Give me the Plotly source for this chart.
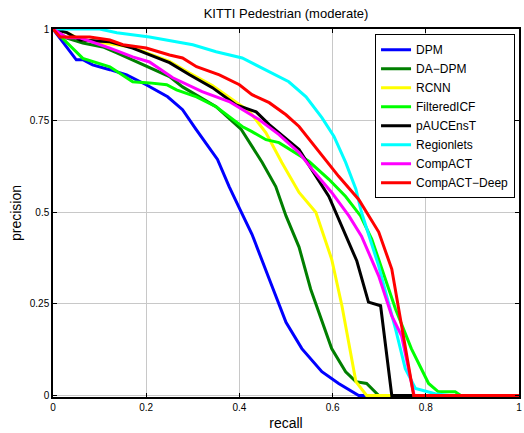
import plotly.graph_objects as go

title_text = "KITTI Pedestrian (moderate)"
x_ticks = [0, 0.2, 0.4, 0.6, 0.8, 1]
x_tick_labels = ["0", "0.2", "0.4", "0.6", "0.8", "1"]
y_ticks = [0, 0.25, 0.5, 0.75, 1]
y_tick_labels = ["0", "0.25", "0.5", "0.75", "1"]

series_names = ["DPM", "DA\u2212DPM", "RCNN", "FilteredICF", "pAUCEnsT",
                "Regionlets", "CompACT", "CompACT\u2212Deep"]
series_colors = ["#0000FF", "#007F00", "#FFFF00", "#00FF00", "#000000",
                 "#00FFFF", "#FF00FF", "#FF0000"]

dpm_r = [0, 0.05, 0.064, 0.085, 0.122, 0.158, 0.2, 0.246, 0.278, 0.307, 0.353, 0.378,
         0.403, 0.427, 0.464, 0.50, 0.534, 0.577, 0.613, 0.656, 1]
dpm_p = [1, 0.916, 0.916, 0.902, 0.889, 0.875, 0.848, 0.815, 0.78, 0.726, 0.644, 0.57,
         0.503, 0.44, 0.318, 0.2, 0.128, 0.065, 0.033, 0, 0]

dadpm_r = [0, 0.03, 0.064, 0.107, 0.137, 0.207, 0.25, 0.278, 0.308, 0.35, 0.404, 0.449,
           0.478, 0.50, 0.528, 0.553, 0.598, 0.628, 0.65, 0.673, 0.699, 1]
dadpm_p = [1, 0.975, 0.962, 0.951, 0.935, 0.894, 0.87, 0.842, 0.82, 0.788, 0.726, 0.636,
           0.57, 0.49, 0.405, 0.29, 0.128, 0.065, 0.038, 0.033, 0, 0]

rcnn_r = [0, 0.03, 0.058, 0.122, 0.171, 0.207, 0.25, 0.293, 0.342, 0.393, 0.421, 0.457,
          0.491, 0.528, 0.564, 0.598, 0.62, 0.65, 0.673, 0.72, 1]
rcnn_p = [1, 0.99, 0.972, 0.96, 0.95, 0.932, 0.912, 0.88, 0.846, 0.80, 0.776, 0.717,
          0.636, 0.554, 0.50, 0.372, 0.245, 0.038, 0, 0, 0]

ficf_r = [0, 0.064, 0.122, 0.171, 0.207, 0.244, 0.265, 0.308, 0.35, 0.406, 0.427, 0.457,
          0.485, 0.528, 0.549, 0.592, 0.628, 0.66, 0.684, 0.735, 0.769, 0.806, 0.827,
          0.863, 0.875, 1]
ficf_p = [1, 0.92, 0.897, 0.856, 0.853, 0.848, 0.834, 0.815, 0.788, 0.734, 0.72, 0.698,
          0.69, 0.655, 0.639, 0.59, 0.543, 0.49, 0.427, 0.236, 0.128, 0.033, 0.01,
          0.01, 0, 0]

pauc_r = [0, 0.03, 0.058, 0.122, 0.171, 0.207, 0.25, 0.293, 0.342, 0.393, 0.436, 0.464,
          0.528, 0.592, 0.628, 0.652, 0.677, 0.703, 0.727, 1]
pauc_p = [1, 0.99, 0.97, 0.965, 0.948, 0.929, 0.908, 0.875, 0.84, 0.793, 0.774, 0.739,
          0.671, 0.543, 0.435, 0.367, 0.255, 0.245, 0, 0]

regl_r = [0, 0.1, 0.137, 0.207, 0.3, 0.35, 0.406, 0.457, 0.506, 0.543, 0.577, 0.603,
          0.628, 0.65, 0.662, 0.699, 0.735, 0.756, 0.778, 0.82, 0.85, 1]
regl_p = [1, 1.0, 0.99, 0.978, 0.957, 0.938, 0.921, 0.889, 0.856, 0.815, 0.758, 0.707,
          0.636, 0.563, 0.50, 0.353, 0.182, 0.073, 0.019, 0.005, 0, 0]

compact_r = [0, 0.03, 0.058, 0.122, 0.171, 0.207, 0.257, 0.32, 0.378, 0.414, 0.442,
             0.485, 0.528, 0.556, 0.598, 0.635, 0.662, 0.699, 0.727, 0.748, 0.775, 1]
compact_p = [1, 0.976, 0.976, 0.948, 0.924, 0.91, 0.867, 0.829, 0.802, 0.774, 0.753,
             0.712, 0.663, 0.617, 0.554, 0.49, 0.435, 0.326, 0.217, 0.163, 0, 0]

deep_r = [0, 0.015, 0.079, 0.122, 0.15, 0.2, 0.25, 0.278, 0.308, 0.357, 0.4, 0.427,
          0.464, 0.5, 0.528, 0.556, 0.585, 0.613, 0.656, 0.677, 0.699, 0.727, 0.774, 1]
deep_p = [1, 0.978, 0.978, 0.97, 0.957, 0.948, 0.929, 0.921, 0.897, 0.875, 0.848, 0.821,
          0.799, 0.766, 0.734, 0.69, 0.644, 0.598, 0.535, 0.49, 0.446, 0.345, 0, 0]

recalls = [dpm_r, dadpm_r, rcnn_r, ficf_r, pauc_r, regl_r, compact_r, deep_r]
precisions = [dpm_p, dadpm_p, rcnn_p, ficf_p, pauc_p, regl_p, compact_p, deep_p]

FONT = "Liberation Sans, Arial, Helvetica, sans-serif"

fig = go.Figure()
for name, color, r, p in zip(series_names, series_colors, recalls, precisions):
    fig.add_trace(go.Scatter(x=r, y=p, mode="lines", name=name,
                             line=dict(color=color, width=3)))

axis_common = dict(
    showgrid=True, gridcolor="#C8C8C8", gridwidth=1,
    showline=True, linecolor="black", linewidth=1.5, mirror="ticks",
    ticks="inside", ticklen=4, tickcolor="black",
    tickfont=dict(family=FONT, size=10, color="black"),
    zeroline=False, fixedrange=True, automargin=False,
)

fig.update_layout(
    width=524, height=433,
    margin=dict(l=53, r=5, t=29, b=36),
    paper_bgcolor="white", plot_bgcolor="white",
    title=dict(text=title_text, xref="paper", x=0.5, xanchor="center",
               y=0.970, yanchor="middle",
               font=dict(family=FONT, size=13, color="black"), automargin=False),
    xaxis=dict(range=[0, 1], tickvals=x_ticks, ticktext=x_tick_labels,
               title=dict(text="recall", font=dict(family=FONT, size=14, color="black"),
                          standoff=6),
               **axis_common),
    yaxis=dict(range=[-0.004, 1.0], tickvals=y_ticks, ticktext=y_tick_labels,
               title=dict(text="precision", font=dict(family=FONT, size=14, color="black"),
                          standoff=5),
               **axis_common),
    legend=dict(x=0.9915, y=0.986, xanchor="right", yanchor="top",
                bgcolor="white", bordercolor="black", borderwidth=1,
                font=dict(family=FONT, size=12, color="black"),
                tracegroupgap=0, itemwidth=30),
    showlegend=True,
)

fig.write_html("out.html",
               config={"displayModeBar": False},
               post_script="document.body.style.margin='0';document.body.style.overflow='hidden';")
